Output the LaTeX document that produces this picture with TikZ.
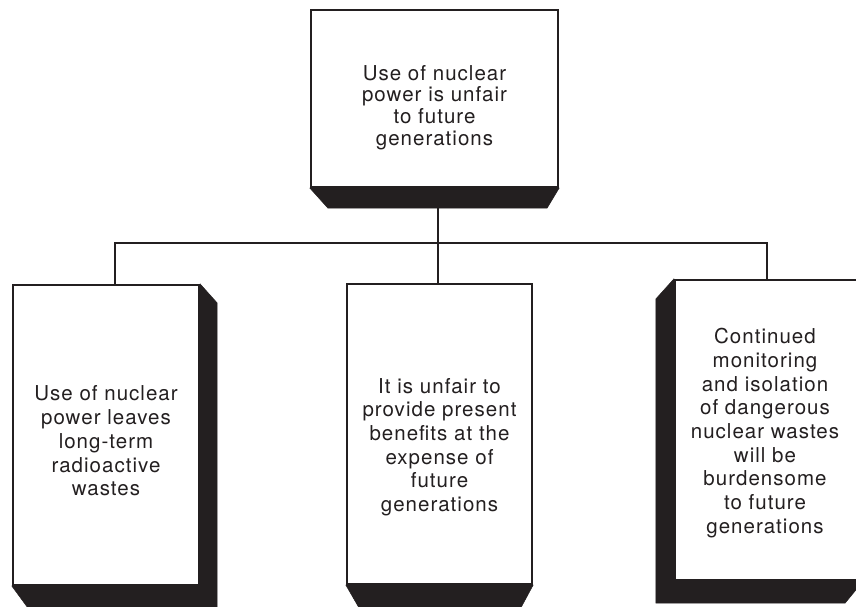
\documentclass[tikz,border=0pt]{standalone}
\usepackage{fontspec}
\newfontfamily\boxfont{TeX Gyre Heros}[LetterSpace=5]
\usetikzlibrary{calc,backgrounds}
\definecolor{ink}{HTML}{231F20}
\begin{document}
\begin{tikzpicture}[x=1pt,y=-1pt,
  face/.style={draw=ink, line width=2.2pt, fill=white, inner sep=0pt},
  depth/.style={fill=ink, draw=ink, line width=0.5pt, line join=miter},
  link/.style={draw=ink, line width=2.2pt},
  txt/.style={font=\boxfont\fontsize{20.5}{23.7}\selectfont, align=center, text=ink, inner sep=0pt}]
\useasboundingbox (0,0) rectangle (856,606);
\clip (0,0) rectangle (856,606);

% front faces of the four blocks
\node[face, minimum width=247pt, minimum height=177pt] (top) at (434.5,98.5) {};
\node[face, minimum width=186pt, minimum height=300pt] (left) at (106,435) {};
\node[face, minimum width=185pt, minimum height=300pt] (mid) at (439.5,434) {};
\node[face, minimum width=187pt, minimum height=300pt] (right) at (768.5,430) {};

% solid sides of the blocks
\begin{scope}[on background layer]
  \fill[white] (0,0) rectangle (856,606);
  \path[depth] (top.south west) -- ++(18,20) -- ($(top.south east)+(-12,20)$) -- (top.south east) -- cycle;
  \path[depth] (left.north east) -- ++(17,19) -- ($(left.south east)+(17,30)$) -- ($(left.south west)+(22,30)$) -- (left.south west) -- cycle;
  \path[depth] (mid.south west) -- ($(mid.south west)+(15,26)$) -- ($(mid.south east)+(-14,26)$) -- (mid.south east) -- cycle;
  \path[depth] (right.north west) -- ++(-18,20) -- ($(right.south west)+(-18,22)$) -- ($(right.south east)+(-18,22)$) -- (right.south east) -- cycle;
\end{scope}

% tree connectors
\coordinate (hub) at (438,243);
\coordinate (lj) at (115,243);
\coordinate (rj) at (767,243);
\draw[link] (hub |- top.south) -- (hub |- mid.north);
\draw[link] (lj |- left.north) -- (lj) -- (rj) -- (rj |- right.north);

% labels
\node[txt, font=\boxfont\fontsize{20.5}{21.8}\selectfont] (topT) at (434.5,107.5) {Use of nuclear\\power is unfair\\to future\\generations};
\node[txt] (leftT) at (106,441) {Use of nuclear\\power leaves\\long-term\\radioactive\\wastes};
\node[txt] (midT) at (439.5,447) {It is unfair to\\provide present\\benefits at the\\expense of\\future\\generations};
\node[txt] (rightT) at (765,433) {Continued\\monitoring\\and isolation\\of dangerous\\nuclear wastes\\will be\\burdensome\\to future\\generations};
\end{tikzpicture}
\end{document}
